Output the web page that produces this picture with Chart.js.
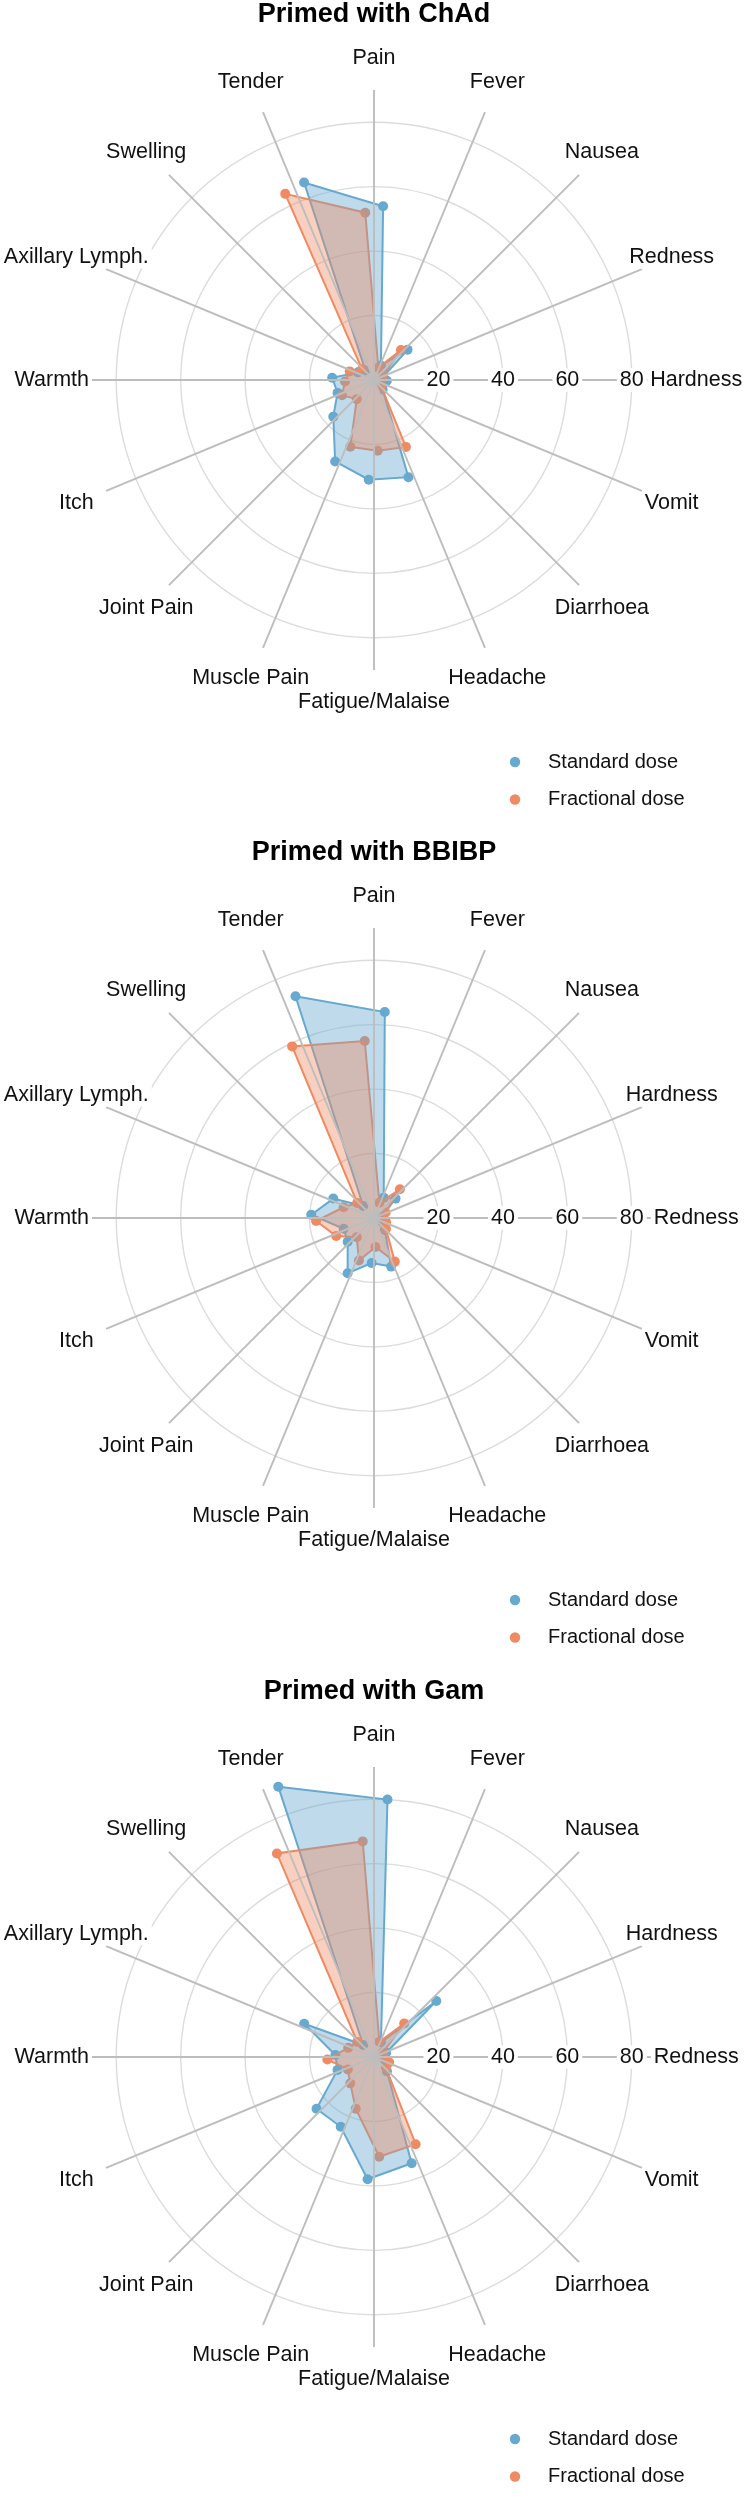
<!DOCTYPE html>
<html>
<head>
<meta charset="utf-8">
<title>Reactogenicity by priming vaccine</title>
<script src="https://cdn.jsdelivr.net/npm/chart.js@4.4.1/dist/chart.umd.min.js"></script>
<style>
  body { margin: 0; background: #fff; }
  canvas { display: block; }
</style>
</head>
<body>
<canvas id="chad" width="744" height="838"></canvas>
<canvas id="bbibp" width="744" height="839"></canvas>
<canvas id="gam" width="744" height="823"></canvas>
<script>
// The ChAd panel swaps Redness and Hardness compared with the other two
const symptomsChAd = ['Pain', 'Fever', 'Nausea', 'Redness', 'Hardness', 'Vomit', 'Diarrhoea', 'Headache',
  'Fatigue/Malaise', 'Muscle Pain', 'Joint Pain', 'Itch', 'Warmth', 'Axillary Lymph.', 'Swelling', 'Tender'];
const symptomsOther = ['Pain', 'Fever', 'Nausea', 'Hardness', 'Redness', 'Vomit', 'Diarrhoea', 'Headache',
  'Fatigue/Malaise', 'Muscle Pain', 'Joint Pain', 'Itch', 'Warmth', 'Axillary Lymph.', 'Swelling', 'Tender'];

const doseNames = ['Standard dose', 'Fractional dose'];
const tickValues = [20, 40, 60, 80];

// % of participants reporting each symptom
const chadStandard    = [54, 5, 14, 3, 4, 3, 4, 32, 31, 28, 17, 12, 13, 5.5, 4, 65];
const chadFractional  = [52, 4, 12.5, 3, 2, 2, 3, 23, 22, 22, 8, 11, 9, 8, 5, 64];
const bbibpStandard   = [64, 7, 9, 3, 3, 3, 5, 16, 14, 19, 11, 10, 19.5, 14, 5, 73];
const bbibpFractional = [55, 5, 12, 4, 2, 4, 5, 15, 9, 14, 8, 13, 18, 10, 7, 59];
const gamStandard     = [80, 5, 26, 4, 3, 4, 6, 35, 38, 24, 24, 12, 12, 24, 5, 89];
const gamFractional   = [67, 5, 14, 3, 3, 5, 5, 30, 31, 17, 11, 9, 14.5, 8.5, 7, 70];

const FONT = "'Liberation Sans', Arial, Helvetica, sans-serif";
const BLUE = '#67a9cf';
const ORANGE = '#ef8a62';

// radar controller that nudges each series a few degrees off its spoke (dodge)
class DodgedRadar extends Chart.RadarController {
  updateElements(points, start, count, mode) {
    const scale = this._cachedMeta.rScale;
    const n = scale.getLabels().length || 1;
    const shift = (this.getDataset().dodge || 0) / (360 / n);
    for (let i = start; i < start + count; i++) {
      const point = points[i];
      const options = this.resolveDataElementOptions(i, point.active ? 'active' : mode);
      const r = scale.getDistanceFromCenterForValue(this.getParsed(i).r);
      const pos = scale.getPointPosition(i + shift, r);
      this.updateElement(point, i, {
        x: pos.x, y: pos.y, angle: pos.angle,
        skip: isNaN(pos.x) || isNaN(pos.y),
        options
      }, mode);
    }
  }
}
DodgedRadar.id = 'dodgedRadar';
DodgedRadar.defaults = Chart.RadarController.defaults;
DodgedRadar.overrides = Chart.RadarController.overrides;
Chart.register(DodgedRadar);

function backedText(ctx, text, x, y, size) {
  const w = ctx.measureText(text).width;
  ctx.fillStyle = '#fff';
  ctx.fillRect(x - w / 2 - 3, y - size * 0.55, w + 6, size * 1.1);
  ctx.fillStyle = '#111';
  ctx.fillText(text, x, y);
}

// spokes over the shapes, tick numbers, symptom names and the dot legend
const decor = {
  id: 'decor',
  afterDatasetsDraw(chart, args, opts) {
    const scale = chart.scales.r;
    const ctx = chart.ctx;
    const n = chart.data.labels.length;
    ctx.save();

    ctx.strokeStyle = '#bdbdbd';
    ctx.lineWidth = 1.9;
    const spokeR = scale.getDistanceFromCenterForValue(90);
    for (let i = 0; i < n; i++) {
      const p = scale.getPointPosition(i, spokeR);
      ctx.beginPath();
      ctx.moveTo(scale.xCenter, scale.yCenter);
      ctx.lineTo(p.x, p.y);
      ctx.stroke();
    }

    ctx.textAlign = 'center';
    ctx.textBaseline = 'middle';
    ctx.font = '21.5px ' + FONT;
    tickValues.forEach(v => {
      const p = scale.getPointPosition(n / 4, scale.getDistanceFromCenterForValue(v));
      backedText(ctx, String(v), p.x, p.y, 21.5);
    });

    const labelR = scale.getDistanceFromCenterForValue(100);
    chart.data.labels.forEach((t, i) => {
      const p = scale.getPointPosition(i, labelR);
      backedText(ctx, t, p.x, p.y, 21.5);
    });

    ctx.font = '20px ' + FONT;
    ctx.textAlign = 'left';
    chart.data.datasets.filter(ds => ds.legend).forEach((ds, i) => {
      const y = opts.legendY + i * 37.5;
      ctx.fillStyle = ds.borderColor;
      ctx.beginPath();
      ctx.arc(opts.legendX, y, 5.2, 0, Math.PI * 2);
      ctx.fill();
      ctx.fillStyle = '#111';
      ctx.fillText(ds.label, opts.legendX + 33, y);
    });
    ctx.restore();
  }
};

function centerScale(scale) {
  scale.xCenter = scale.left + scale.width / 2;
  scale.yCenter = scale.top + scale.height / 2;
  scale.drawingArea = Math.min(scale.width, scale.height) / 2;
}

// outline + dots of one series
function doseLine(label, values, color, dodge, order) {
  return {
    label: label,
    legend: true,
    data: values,
    borderColor: color,
    borderWidth: 2,
    pointBackgroundColor: color,
    pointBorderWidth: 0,
    pointRadius: 5,
    fill: false,
    clip: false,
    dodge: dodge,
    order: order
  };
}

// translucent area of one series, laid over the dots like the original
function doseArea(label, values, fill, dodge, order) {
  return {
    label: label,
    data: values,
    borderWidth: 0,
    borderColor: 'rgba(0,0,0,0)',
    backgroundColor: fill,
    pointRadius: 0,
    fill: true,
    clip: false,
    dodge: dodge,
    order: order
  };
}

function drawPanel(id, title, symptoms, standard, fractional) {
  const canvas = document.getElementById(id);
  new Chart(canvas, {
    type: 'dodgedRadar',
    data: {
      labels: symptoms,
      datasets: [
        doseLine(doseNames[0], standard, BLUE, 3, 4),
        doseLine(doseNames[1], fractional, ORANGE, -3, 3),
        doseArea(doseNames[0], standard, 'rgba(103,169,207,0.42)', 3, 2),
        doseArea(doseNames[1], fractional, 'rgba(239,138,98,0.4)', -3, 1)
      ]
    },
    options: {
      responsive: false,
      animation: false,
      events: [],
      layout: { padding: { left: 84, right: 80, top: 0, bottom: canvas.height - 670 } },
      plugins: {
        legend: { display: false },
        tooltip: { enabled: false },
        title: {
          display: true,
          text: title,
          color: '#000',
          font: { family: FONT, size: 27, weight: 'bold', lineHeight: 1.05 },
          padding: { top: 0, bottom: 61.65 }
        },
        decor: { legendX: 515, legendY: 762 }
      },
      scales: {
        r: {
          min: 0,
          max: 90,
          ticks: { display: false, stepSize: 20 },
          pointLabels: { display: false },
          angleLines: { display: false },
          grid: {
            circular: true,
            lineWidth: 1.4,
            color: c => (c.tick && c.tick.value > 80) ? 'rgba(0,0,0,0)' : '#dcdcdc'
          },
          afterFit: centerScale
        }
      }
    },
    plugins: [decor]
  });
}

drawPanel('chad', 'Primed with ChAd', symptomsChAd, chadStandard, chadFractional);
drawPanel('bbibp', 'Primed with BBIBP', symptomsOther, bbibpStandard, bbibpFractional);
drawPanel('gam', 'Primed with Gam', symptomsOther, gamStandard, gamFractional);
</script>
</body>
</html>
